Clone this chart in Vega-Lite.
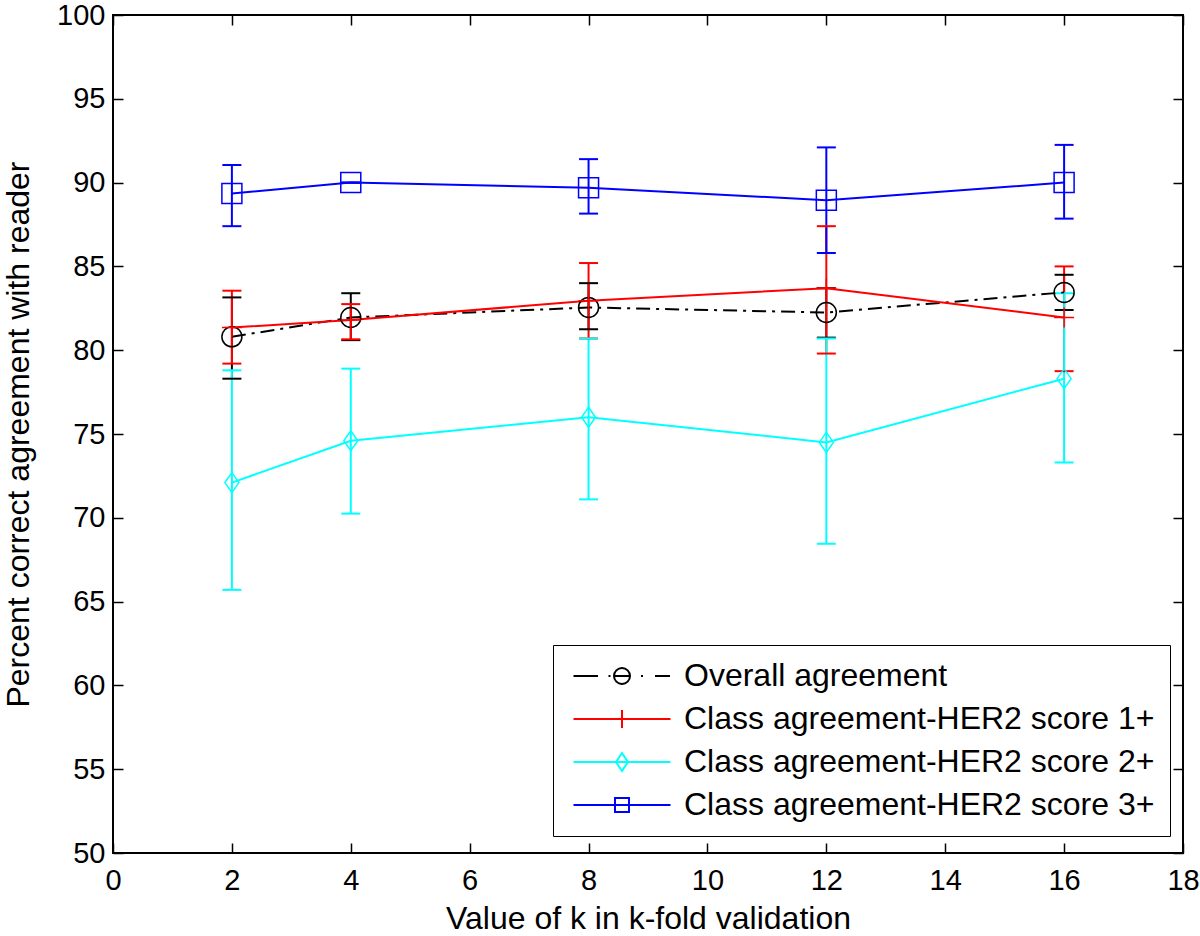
{
  "$schema": "https://vega.github.io/schema/vega-lite/v6.json",
  "width": 1070,
  "height": 838,
  "autosize": {"type": "none"},
  "padding": {"left": 113, "top": 15, "right": 17, "bottom": 83},
  "background": "white",
  "config": {
    "view": {"stroke": "black", "strokeWidth": 2},
    "axis": {
      "grid": false,
      "domain": false,
      "tickColor": "black",
      "tickWidth": 1.5,
      "tickSize": -10,
      "labelColor": "black",
      "titleColor": "black",
      "labelFont": "Liberation Sans",
      "titleFont": "Liberation Sans",
      "labelFontSize": 29,
      "titleFontSize": 32,
      "titleFontWeight": "normal",
      "labelOverlap": false,
      "labelFlush": false,
      "labelBound": false
    },
    "legend": {
      "orient": "none",
      "legendX": 440,
      "legendY": 630,
      "strokeColor": "black",
      "fillColor": "white",
      "padding": 15,
      "symbolSize": 400,
      "symbolStrokeWidth": 2,
      "symbolFillColor": "transparent",
      "symbolOpacity": 1,
      "symbolOffset": 38,
      "labelOffset": 46,
      "labelFontSize": 32,
      "labelFont": "Liberation Sans",
      "labelColor": "black",
      "labelLimit": 700,
      "rowPadding": 11
    }
  },
  "data": {
    "values": [
      {"k": 2, "series": "Overall agreement", "v": 80.8, "lo": 78.3, "hi": 83.15},
      {"k": 4, "series": "Overall agreement", "v": 81.95, "lo": 80.6, "hi": 83.4},
      {"k": 8, "series": "Overall agreement", "v": 82.55, "lo": 81.25, "hi": 84.0},
      {"k": 12, "series": "Overall agreement", "v": 82.25, "lo": 80.75, "hi": 83.7},
      {"k": 16, "series": "Overall agreement", "v": 83.45, "lo": 82.4, "hi": 84.5},
      {"k": 2, "series": "Class agreement-HER2 score 1+", "v": 81.35, "lo": 79.2, "hi": 83.55},
      {"k": 4, "series": "Class agreement-HER2 score 1+", "v": 81.8, "lo": 80.65, "hi": 82.75},
      {"k": 8, "series": "Class agreement-HER2 score 1+", "v": 82.95, "lo": 80.7, "hi": 85.2},
      {"k": 12, "series": "Class agreement-HER2 score 1+", "v": 83.7, "lo": 79.8, "hi": 87.4},
      {"k": 16, "series": "Class agreement-HER2 score 1+", "v": 81.95, "lo": 78.75, "hi": 85.0},
      {"k": 2, "series": "Class agreement-HER2 score 2+", "v": 72.1, "lo": 65.7, "hi": 78.8},
      {"k": 4, "series": "Class agreement-HER2 score 2+", "v": 74.6, "lo": 70.25, "hi": 78.9},
      {"k": 8, "series": "Class agreement-HER2 score 2+", "v": 76.0, "lo": 71.1, "hi": 80.7},
      {"k": 12, "series": "Class agreement-HER2 score 2+", "v": 74.5, "lo": 68.45, "hi": 80.7},
      {"k": 16, "series": "Class agreement-HER2 score 2+", "v": 78.3, "lo": 73.3, "hi": 83.4},
      {"k": 2, "series": "Class agreement-HER2 score 3+", "v": 89.35, "lo": 87.4, "hi": 91.05},
      {"k": 4, "series": "Class agreement-HER2 score 3+", "v": 90.0, "lo": 90.0, "hi": 90.0},
      {"k": 8, "series": "Class agreement-HER2 score 3+", "v": 89.7, "lo": 88.15, "hi": 91.4},
      {"k": 12, "series": "Class agreement-HER2 score 3+", "v": 88.95, "lo": 85.8, "hi": 92.1},
      {"k": 16, "series": "Class agreement-HER2 score 3+", "v": 90.0, "lo": 87.85, "hi": 92.25}
    ]
  },
  "resolve": {"axis": {"x": "independent", "y": "independent"}},
  "layer": [
    {
      "mark": {"type": "rule", "strokeWidth": 2},
      "encoding": {
        "x": {
          "field": "k", "type": "quantitative",
          "scale": {"domain": [0, 18], "nice": false},
          "axis": {
            "values": [0, 2, 4, 6, 8, 10, 12, 14, 16, 18],
            "labelPadding": 23,
            "title": "Value of k in k-fold validation",
            "titleY": 75,
            "titleBaseline": "alphabetic"
          }
        },
        "y": {
          "field": "lo", "type": "quantitative",
          "scale": {"domain": [50, 100], "nice": false, "zero": false},
          "axis": {
            "values": [50, 55, 60, 65, 70, 75, 80, 85, 90, 95, 100],
            "labelPadding": 18,
            "title": "Percent correct agreement with reader",
            "titleX": -85,
            "titleY": 419,
            "titleAngle": -90,
            "titleAlign": "center",
            "titleBaseline": "alphabetic"
          }
        },
        "y2": {"field": "hi"},
        "color": {
          "field": "series", "type": "nominal",
          "scale": {
            "domain": ["Overall agreement", "Class agreement-HER2 score 1+", "Class agreement-HER2 score 2+", "Class agreement-HER2 score 3+"],
            "range": ["#000000", "#ff0000", "#00ffff", "#0000ff"]
          },
          "legend": {"title": null}
        }
      }
    },
    {
      "mark": {"type": "point", "shape": "M-1,0H1", "filled": false, "size": 361, "strokeWidth": 2, "opacity": 1},
      "encoding": {
        "x": {"field": "k", "type": "quantitative", "axis": null},
        "y": {"field": "lo", "type": "quantitative", "axis": null},
        "color": {"field": "series", "type": "nominal"}
      }
    },
    {
      "mark": {"type": "point", "shape": "M-1,0H1", "filled": false, "size": 361, "strokeWidth": 2, "opacity": 1},
      "encoding": {
        "x": {"field": "k", "type": "quantitative", "axis": null},
        "y": {"field": "hi", "type": "quantitative", "axis": null},
        "color": {"field": "series", "type": "nominal"}
      }
    },
    {
      "transform": [{"filter": "datum.series === 'Overall agreement'"}],
      "mark": {"type": "line", "strokeWidth": 2, "strokeDash": [14, 6, 3, 6]},
      "encoding": {
        "x": {"field": "k", "type": "quantitative", "axis": null},
        "y": {"field": "v", "type": "quantitative", "axis": null},
        "color": {"field": "series", "type": "nominal"}
      }
    },
    {
      "transform": [{"filter": "datum.series !== 'Overall agreement'"}],
      "mark": {"type": "line", "strokeWidth": 2},
      "encoding": {
        "x": {
          "field": "k", "type": "quantitative",
          "axis": {"orient": "top", "labels": false, "title": null, "values": [0, 2, 4, 6, 8, 10, 12, 14, 16, 18]}
        },
        "y": {
          "field": "v", "type": "quantitative",
          "axis": {"orient": "right", "labels": false, "title": null, "values": [50, 55, 60, 65, 70, 75, 80, 85, 90, 95, 100]}
        },
        "color": {"field": "series", "type": "nominal"}
      }
    },
    {
      "transform": [{"filter": "datum.series === 'Overall agreement'"}],
      "mark": {"type": "point", "filled": false, "size": 400, "strokeWidth": 1.5, "opacity": 1, "shape": "circle"},
      "encoding": {
        "x": {"field": "k", "type": "quantitative", "axis": null},
        "y": {"field": "v", "type": "quantitative", "axis": null},
        "color": {"field": "series", "type": "nominal"}
      }
    },
    {
      "transform": [{"filter": "datum.series === 'Class agreement-HER2 score 1+'"}],
      "mark": {"type": "point", "filled": false, "size": 400, "strokeWidth": 1.5, "opacity": 1, "shape": "M-1,0H1M0,-1V1"},
      "encoding": {
        "x": {"field": "k", "type": "quantitative", "axis": null},
        "y": {"field": "v", "type": "quantitative", "axis": null},
        "color": {"field": "series", "type": "nominal"}
      }
    },
    {
      "transform": [{"filter": "datum.series === 'Class agreement-HER2 score 2+'"}],
      "mark": {"type": "point", "filled": false, "size": 400, "strokeWidth": 1.5, "opacity": 1, "shape": "M0,-1L0.7,0L0,1L-0.7,0Z"},
      "encoding": {
        "x": {"field": "k", "type": "quantitative", "axis": null},
        "y": {"field": "v", "type": "quantitative", "axis": null},
        "color": {"field": "series", "type": "nominal"}
      }
    },
    {
      "transform": [{"filter": "datum.series === 'Class agreement-HER2 score 3+'"}],
      "mark": {"type": "point", "filled": false, "size": 400, "strokeWidth": 1.5, "opacity": 1, "shape": "square"},
      "encoding": {
        "x": {"field": "k", "type": "quantitative", "axis": null},
        "y": {"field": "v", "type": "quantitative", "axis": null},
        "color": {"field": "series", "type": "nominal"}
      }
    },
    {
      "transform": [{"filter": "datum.k < 0"}],
      "mark": {"type": "point", "filled": false, "strokeWidth": 2},
      "encoding": {
        "x": {"field": "k", "type": "quantitative", "axis": null},
        "y": {"field": "v", "type": "quantitative", "axis": null},
        "color": {"field": "series", "type": "nominal"},
        "shape": {
          "field": "series", "type": "nominal",
          "scale": {
            "domain": ["Overall agreement", "Class agreement-HER2 score 1+", "Class agreement-HER2 score 2+", "Class agreement-HER2 score 3+"],
            "range": [
              "M-4.85,0H-2.4M-1.35,0H-1.15M-0.8,0A0.8,0.8 0 1,1 0.8,0A0.8,0.8 0 1,1 -0.8,0M-0.8,0H0.8M1.9,0H2.1M3.3,0H4.8",
              "M-4.85,0H4.85M0,-0.9V0.9",
              "M-4.85,0H4.85M0,-0.9L0.6,0L0,0.9L-0.6,0Z",
              "M-4.85,0H4.85M-0.7,-0.7H0.7V0.7H-0.7Z"
            ]
          },
          "legend": {"title": null}
        }
      }
    }
  ]
}
